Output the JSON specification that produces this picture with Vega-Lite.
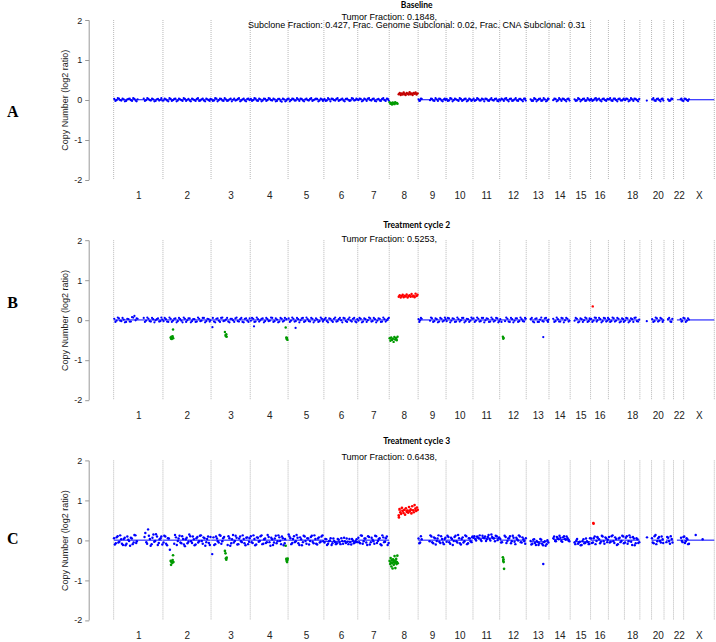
{
"$schema":"https://vega.github.io/schema/vega-lite/v6.json",
"background":"white",
"padding":{"left":5.7,"top":1,"right":0,"bottom":0},
"config":{"view":{"stroke":null}},
"datasets":{
"bounds":[{"x":0},{"x":249},{"x":492},{"x":690},{"x":881},{"x":1062},{"x":1233},{"x":1392},{"x":1538},{"x":1679},{"x":1815},{"x":1950},{"x":2084},{"x":2199},{"x":2306},{"x":2409},{"x":2499},{"x":2580},{"x":2658},{"x":2717},{"x":2780},{"x":2828},{"x":2879},{"x":3034}],
"segA":[{"x":2,"x2":247,"y":0,"s":"N"},{"x":250,"x2":490,"y":0,"s":"N"},{"x":493,"x2":688,"y":0,"s":"N"},{"x":691,"x2":879,"y":0,"s":"N"},{"x":882,"x2":1061,"y":0,"s":"N"},{"x":1063,"x2":1232,"y":0,"s":"N"},{"x":1234,"x2":1391,"y":0,"s":"N"},{"x":1394,"x2":1436,"y":-0.08,"s":"L"},{"x":1438,"x2":1537,"y":0.15,"s":"G"},{"x":1539,"x2":1678,"y":0,"s":"N"},{"x":1680,"x2":1814,"y":0,"s":"N"},{"x":1816,"x2":1949,"y":0,"s":"N"},{"x":1951,"x2":2083,"y":0,"s":"N"},{"x":2104,"x2":2198,"y":0,"s":"N"},{"x":2219,"x2":2305,"y":0,"s":"N"},{"x":2326,"x2":2408,"y":0,"s":"N"},{"x":2410,"x2":2498,"y":0,"s":"N"},{"x":2500,"x2":2579,"y":0,"s":"N"},{"x":2581,"x2":2657,"y":0,"s":"N"},{"x":2718,"x2":2779,"y":0,"s":"N"},{"x":2795,"x2":2827,"y":0,"s":"N"},{"x":2845,"x2":2878,"y":0,"s":"N"},{"x":2880,"x2":3034,"y":0,"s":"N"}],
"ptsA":[{"x":3,"y":0.02},{"x":15,"y":-0.01},{"x":27,"y":0.03},{"x":39,"y":-0.02},{"x":51,"y":0.01},{"x":63,"y":-0.03},{"x":75,"y":0.02},{"x":87,"y":-0.01},{"x":99,"y":0.04},{"x":111,"y":-0.02},{"x":121,"y":0.01},{"x":152,"y":0.03},{"x":164,"y":-0.01},{"x":176,"y":0.02},{"x":188,"y":-0.02},{"x":200,"y":0.01},{"x":212,"y":-0.03},{"x":224,"y":0.02},{"x":236,"y":0},{"x":246,"y":-0.02},
{"x":252,"y":-0.02},{"x":264,"y":0.01},{"x":276,"y":-0.04},{"x":288,"y":0.02},{"x":300,"y":-0.01},{"x":312,"y":0.03},{"x":324,"y":-0.02},{"x":336,"y":0.01},{"x":348,"y":-0.03},{"x":360,"y":0.02},{"x":372,"y":0},{"x":384,"y":-0.02},{"x":396,"y":0.03},{"x":408,"y":-0.01},{"x":420,"y":0.02},{"x":432,"y":-0.03},{"x":444,"y":0.01},{"x":456,"y":-0.02},{"x":468,"y":0.03},{"x":480,"y":-0.01},{"x":489,"y":0.02},
{"x":495,"y":0.01},{"x":507,"y":-0.02},{"x":519,"y":0.03},{"x":531,"y":-0.01},{"x":543,"y":0.02},{"x":555,"y":-0.03},{"x":567,"y":0.01},{"x":579,"y":-0.02},{"x":591,"y":0.03},{"x":603,"y":0},{"x":615,"y":-0.02},{"x":627,"y":0.02},{"x":639,"y":-0.04},{"x":651,"y":0.01},{"x":663,"y":-0.02},{"x":675,"y":0.02},{"x":687,"y":-0.01},
{"x":693,"y":0.02},{"x":705,"y":-0.01},{"x":717,"y":0.03},{"x":729,"y":-0.03},{"x":741,"y":0.01},{"x":753,"y":-0.02},{"x":765,"y":0.02},{"x":777,"y":-0.01},{"x":789,"y":0.03},{"x":801,"y":-0.02},{"x":813,"y":0.01},{"x":825,"y":-0.03},{"x":837,"y":0.02},{"x":849,"y":-0.05},{"x":861,"y":0.01},{"x":873,"y":-0.02},
{"x":884,"y":0.03},{"x":896,"y":-0.01},{"x":908,"y":0.02},{"x":920,"y":-0.02},{"x":932,"y":0.01},{"x":944,"y":0.03},{"x":956,"y":-0.02},{"x":968,"y":0.01},{"x":980,"y":-0.01},{"x":992,"y":0.02},{"x":1004,"y":-0.03},{"x":1016,"y":0.01},{"x":1028,"y":0.02},{"x":1040,"y":-0.02},{"x":1052,"y":0.01},{"x":1060,"y":-0.01},
{"x":1065,"y":0.02},{"x":1077,"y":-0.02},{"x":1089,"y":0.01},{"x":1101,"y":0.03},{"x":1113,"y":-0.01},{"x":1125,"y":0.02},{"x":1137,"y":-0.03},{"x":1149,"y":0.01},{"x":1161,"y":-0.02},{"x":1173,"y":0.02},{"x":1185,"y":0},{"x":1197,"y":-0.02},{"x":1209,"y":0.03},{"x":1221,"y":-0.01},{"x":1231,"y":0.01},
{"x":1236,"y":-0.01},{"x":1248,"y":0.02},{"x":1260,"y":-0.02},{"x":1272,"y":0.01},{"x":1284,"y":0.03},{"x":1296,"y":-0.01},{"x":1308,"y":0.02},{"x":1320,"y":-0.03},{"x":1332,"y":0.01},{"x":1344,"y":-0.02},{"x":1356,"y":0.02},{"x":1368,"y":-0.01},{"x":1380,"y":0.03},{"x":1390,"y":-0.02},
{"x":1540,"y":0.01},{"x":1548,"y":-0.02},{"x":1556,"y":0.02},{"x":1598,"y":-0.01},{"x":1608,"y":0.02},{"x":1620,"y":-0.03},{"x":1632,"y":0.01},{"x":1644,"y":0.03},{"x":1656,"y":-0.02},{"x":1668,"y":0.01},{"x":1677,"y":-0.01},
{"x":1682,"y":0.02},{"x":1694,"y":-0.02},{"x":1706,"y":0.03},{"x":1718,"y":-0.01},{"x":1730,"y":0.01},{"x":1742,"y":-0.03},{"x":1754,"y":0.02},{"x":1766,"y":-0.01},{"x":1778,"y":0.03},{"x":1790,"y":-0.02},{"x":1802,"y":0.01},{"x":1812,"y":-0.01},
{"x":1818,"y":0.03},{"x":1830,"y":-0.01},{"x":1842,"y":0.02},{"x":1854,"y":-0.02},{"x":1866,"y":0.01},{"x":1878,"y":0.03},{"x":1890,"y":-0.02},{"x":1902,"y":0.01},{"x":1914,"y":-0.01},{"x":1926,"y":0.02},{"x":1938,"y":-0.03},{"x":1948,"y":0.01},
{"x":1953,"y":-0.02},{"x":1965,"y":0.01},{"x":1977,"y":0.03},{"x":1989,"y":-0.01},{"x":2001,"y":0.02},{"x":2013,"y":-0.03},{"x":2025,"y":0.01},{"x":2037,"y":-0.02},{"x":2049,"y":0.02},{"x":2061,"y":-0.01},{"x":2073,"y":0.03},{"x":2082,"y":-0.02},
{"x":2106,"y":0.01},{"x":2118,"y":-0.03},{"x":2130,"y":0.02},{"x":2142,"y":-0.01},{"x":2154,"y":0.03},{"x":2166,"y":-0.02},{"x":2178,"y":0.01},{"x":2190,"y":-0.02},{"x":2197,"y":0.02},
{"x":2220,"y":-0.01},{"x":2232,"y":0.02},{"x":2244,"y":-0.02},{"x":2256,"y":0.01},{"x":2268,"y":0.03},{"x":2280,"y":-0.01},{"x":2292,"y":0.02},{"x":2303,"y":-0.02},
{"x":2328,"y":0.01},{"x":2340,"y":-0.02},{"x":2352,"y":0.02},{"x":2364,"y":-0.01},{"x":2376,"y":0.03},{"x":2388,"y":-0.02},{"x":2400,"y":0.01},{"x":2407,"y":-0.01},
{"x":2412,"y":0.02},{"x":2424,"y":-0.01},{"x":2436,"y":0.04},{"x":2444,"y":0.01},{"x":2458,"y":-0.02},{"x":2470,"y":0.02},{"x":2482,"y":-0.01},{"x":2494,"y":0.02},
{"x":2502,"y":0.01},{"x":2514,"y":-0.02},{"x":2526,"y":0.03},{"x":2538,"y":-0.01},{"x":2550,"y":0.02},{"x":2562,"y":-0.02},{"x":2574,"y":0.01},
{"x":2583,"y":-0.01},{"x":2595,"y":0.02},{"x":2607,"y":-0.02},{"x":2619,"y":0.01},{"x":2631,"y":0.03},{"x":2643,"y":-0.01},{"x":2655,"y":0.02},
{"x":2693,"y":-0.02},
{"x":2720,"y":0.01},{"x":2732,"y":-0.02},{"x":2744,"y":0.02},{"x":2756,"y":-0.01},{"x":2768,"y":0.02},{"x":2777,"y":-0.02},
{"x":2800,"y":0.01},{"x":2812,"y":-0.02},{"x":2822,"y":0.02},
{"x":2864,"y":0.01},{"x":2872,"y":-0.02},{"x":2884,"y":0.03},{"x":2896,"y":-0.01},{"x":2906,"y":0.01},
{"x":9,"y":-0.03},{"x":21,"y":0.04},{"x":33,"y":-0.01},{"x":45,"y":0.03},{"x":57,"y":-0.04},{"x":69,"y":0.01},{"x":81,"y":0.03},{"x":93,"y":-0.03},{"x":105,"y":0.02},{"x":116,"y":-0.04},{"x":158,"y":-0.03},{"x":170,"y":0.04},{"x":182,"y":-0.01},{"x":194,"y":0.03},{"x":206,"y":-0.04},{"x":218,"y":0.01},{"x":230,"y":-0.02},{"x":241,"y":0.04},
{"x":258,"y":0.03},{"x":270,"y":-0.02},{"x":282,"y":0.04},{"x":294,"y":-0.03},{"x":306,"y":0.02},{"x":318,"y":-0.04},{"x":330,"y":0.03},{"x":342,"y":-0.01},{"x":354,"y":0.04},{"x":366,"y":-0.03},{"x":378,"y":0.02},{"x":390,"y":-0.04},{"x":402,"y":0.01},{"x":414,"y":-0.03},{"x":426,"y":0.04},{"x":438,"y":-0.02},{"x":450,"y":0.03},{"x":462,"y":-0.04},{"x":474,"y":0.01},{"x":485,"y":-0.03},
{"x":501,"y":-0.03},{"x":513,"y":0.04},{"x":525,"y":-0.04},{"x":537,"y":0.03},{"x":549,"y":-0.02},{"x":561,"y":0.04},{"x":573,"y":-0.03},{"x":585,"y":0.01},{"x":597,"y":-0.04},{"x":609,"y":0.03},{"x":621,"y":-0.01},{"x":633,"y":0.04},{"x":645,"y":-0.02},{"x":657,"y":0.03},{"x":669,"y":-0.04},{"x":681,"y":0.03},
{"x":699,"y":-0.03},{"x":711,"y":0.04},{"x":723,"y":-0.02},{"x":735,"y":0.03},{"x":747,"y":-0.04},{"x":759,"y":0.03},{"x":771,"y":-0.03},{"x":783,"y":0.04},{"x":795,"y":-0.01},{"x":807,"y":0.03},{"x":819,"y":-0.04},{"x":831,"y":0.02},{"x":843,"y":-0.03},{"x":855,"y":0.03},{"x":867,"y":-0.04},{"x":878,"y":0.02},
{"x":890,"y":-0.04},{"x":902,"y":0.03},{"x":914,"y":-0.02},{"x":926,"y":0.04},{"x":938,"y":-0.03},{"x":950,"y":0.02},{"x":962,"y":-0.04},{"x":974,"y":0.03},{"x":986,"y":-0.02},{"x":998,"y":0.04},{"x":1010,"y":-0.01},{"x":1022,"y":0.03},{"x":1034,"y":-0.04},{"x":1046,"y":0.03},{"x":1057,"y":-0.03},
{"x":1071,"y":-0.03},{"x":1083,"y":0.04},{"x":1095,"y":-0.04},{"x":1107,"y":0.02},{"x":1119,"y":-0.02},{"x":1131,"y":0.04},{"x":1143,"y":-0.01},{"x":1155,"y":0.03},{"x":1167,"y":-0.04},{"x":1179,"y":0.03},{"x":1191,"y":-0.03},{"x":1203,"y":0.04},{"x":1215,"y":-0.02},{"x":1226,"y":0.03},
{"x":1242,"y":0.03},{"x":1254,"y":-0.04},{"x":1266,"y":0.03},{"x":1278,"y":-0.03},{"x":1290,"y":0.04},{"x":1302,"y":-0.02},{"x":1314,"y":0.03},{"x":1326,"y":-0.04},{"x":1338,"y":0.02},{"x":1350,"y":-0.03},{"x":1362,"y":0.04},{"x":1374,"y":-0.03},{"x":1385,"y":0.02},
{"x":1544,"y":-0.03},{"x":1552,"y":0.03},{"x":1603,"y":0.03},{"x":1614,"y":-0.02},{"x":1626,"y":0.04},{"x":1638,"y":-0.03},{"x":1650,"y":0.02},{"x":1662,"y":-0.04},{"x":1673,"y":0.03},
{"x":1688,"y":-0.03},{"x":1700,"y":0.04},{"x":1712,"y":-0.04},{"x":1724,"y":0.03},{"x":1736,"y":-0.01},{"x":1748,"y":0.04},{"x":1760,"y":-0.03},{"x":1772,"y":0.02},{"x":1784,"y":-0.04},{"x":1796,"y":0.03},{"x":1807,"y":-0.03},
{"x":1824,"y":-0.03},{"x":1836,"y":0.04},{"x":1848,"y":-0.02},{"x":1860,"y":0.03},{"x":1872,"y":-0.04},{"x":1884,"y":0.02},{"x":1896,"y":-0.03},{"x":1908,"y":0.04},{"x":1920,"y":-0.02},{"x":1932,"y":0.03},{"x":1943,"y":-0.04},
{"x":1959,"y":0.03},{"x":1971,"y":-0.03},{"x":1983,"y":0.04},{"x":1995,"y":-0.04},{"x":2007,"y":0.03},{"x":2019,"y":-0.02},{"x":2031,"y":0.04},{"x":2043,"y":-0.03},{"x":2055,"y":0.02},{"x":2067,"y":-0.04},{"x":2078,"y":0.03},
{"x":2112,"y":-0.03},{"x":2124,"y":0.04},{"x":2136,"y":-0.04},{"x":2148,"y":0.02},{"x":2160,"y":-0.03},{"x":2172,"y":0.04},{"x":2184,"y":-0.04},{"x":2194,"y":0.03},
{"x":2226,"y":0.03},{"x":2238,"y":-0.04},{"x":2250,"y":0.04},{"x":2262,"y":-0.03},{"x":2274,"y":0.02},{"x":2286,"y":-0.04},{"x":2298,"y":0.03},
{"x":2334,"y":-0.03},{"x":2346,"y":0.04},{"x":2358,"y":-0.04},{"x":2370,"y":0.02},{"x":2382,"y":-0.03},{"x":2394,"y":0.04},{"x":2404,"y":-0.02},
{"x":2418,"y":-0.03},{"x":2430,"y":0.03},{"x":2440,"y":-0.02},{"x":2452,"y":0.03},{"x":2464,"y":-0.04},{"x":2476,"y":0.03},{"x":2488,"y":-0.03},{"x":2497,"y":0.01},
{"x":2508,"y":0.04},{"x":2520,"y":-0.03},{"x":2532,"y":0.03},{"x":2544,"y":-0.04},{"x":2556,"y":0.03},{"x":2568,"y":-0.02},{"x":2577,"y":0.03},
{"x":2589,"y":0.03},{"x":2601,"y":-0.04},{"x":2613,"y":0.04},{"x":2625,"y":-0.03},{"x":2637,"y":0.02},{"x":2649,"y":-0.04},
{"x":2726,"y":0.04},{"x":2738,"y":-0.03},{"x":2750,"y":0.03},{"x":2762,"y":-0.04},{"x":2773,"y":0.03},
{"x":2806,"y":-0.03},{"x":2817,"y":0.03},
{"x":2868,"y":0.03},{"x":2878,"y":-0.03},{"x":2890,"y":0.02},{"x":2901,"y":-0.03}],
"cnaA":[{"x":1394,"y":-0.06,"s":"L"},{"x":1398,"y":-0.1,"s":"L"},{"x":1402,"y":-0.08,"s":"L"},{"x":1406,"y":-0.12,"s":"L"},{"x":1410,"y":-0.07,"s":"L"},{"x":1414,"y":-0.09,"s":"L"},{"x":1418,"y":-0.11,"s":"L"},{"x":1422,"y":-0.06,"s":"L"},{"x":1426,"y":-0.09,"s":"L"},{"x":1430,"y":-0.08,"s":"L"},{"x":1434,"y":-0.1,"s":"L"},
{"x":1440,"y":0.14,"s":"G"},{"x":1445,"y":0.17,"s":"G"},{"x":1450,"y":0.12,"s":"G"},{"x":1455,"y":0.16,"s":"G"},{"x":1460,"y":0.13,"s":"G"},{"x":1465,"y":0.18,"s":"G"},{"x":1470,"y":0.14,"s":"G"},{"x":1475,"y":0.12,"s":"G"},{"x":1480,"y":0.17,"s":"G"},{"x":1485,"y":0.15,"s":"G"},{"x":1490,"y":0.13,"s":"G"},{"x":1495,"y":0.19,"s":"G"},{"x":1500,"y":0.14,"s":"G"},{"x":1505,"y":0.16,"s":"G"},{"x":1510,"y":0.12,"s":"G"},{"x":1515,"y":0.17,"s":"G"},{"x":1520,"y":0.15,"s":"G"},{"x":1525,"y":0.18,"s":"G"},{"x":1530,"y":0.13,"s":"G"},{"x":1535,"y":0.16,"s":"G"}],
"segB":[{"x":2,"x2":247,"y":0,"s":"N"},{"x":250,"x2":490,"y":0,"s":"N"},{"x":493,"x2":688,"y":0,"s":"N"},{"x":691,"x2":879,"y":0,"s":"N"},{"x":882,"x2":1061,"y":0,"s":"N"},{"x":1063,"x2":1232,"y":0,"s":"N"},{"x":1234,"x2":1391,"y":0,"s":"N"},{"x":1539,"x2":1678,"y":0,"s":"N"},{"x":1680,"x2":1814,"y":0,"s":"N"},{"x":1816,"x2":1949,"y":0,"s":"N"},{"x":1951,"x2":2083,"y":0,"s":"N"},{"x":2104,"x2":2198,"y":0,"s":"N"},{"x":2219,"x2":2305,"y":0,"s":"N"},{"x":2326,"x2":2408,"y":0,"s":"N"},{"x":2410,"x2":2498,"y":0,"s":"N"},{"x":2500,"x2":2579,"y":0,"s":"N"},{"x":2581,"x2":2657,"y":0,"s":"N"},{"x":2718,"x2":2779,"y":0,"s":"N"},{"x":2795,"x2":2827,"y":0,"s":"N"},{"x":2845,"x2":2878,"y":0,"s":"N"},{"x":2880,"x2":3034,"y":0,"s":"N"},
{"x":1394,"x2":1436,"y":-0.48,"s":"L"},{"x":1438,"x2":1537,"y":0.6,"s":"G"},{"x":288,"x2":302,"y":-0.45,"s":"L"},{"x":561,"x2":571,"y":-0.38,"s":"L"},{"x":869,"x2":879,"y":-0.47,"s":"L"},{"x":1965,"x2":1971,"y":-0.45,"s":"L"}],
"ptsB":[{"x":3,"y":0.03},{"x":15,"y":-0.02},{"x":27,"y":0.04},{"x":39,"y":-0.03},{"x":51,"y":0.01},{"x":63,"y":-0.05},{"x":75,"y":0.02},{"x":87,"y":-0.04},{"x":99,"y":0.06},{"x":105,"y":0.1},{"x":111,"y":-0.01},{"x":121,"y":0.03},{"x":152,"y":0.05},{"x":164,"y":-0.02},{"x":176,"y":0.03},{"x":188,"y":-0.04},{"x":200,"y":0.02},{"x":212,"y":-0.01},{"x":224,"y":0.04},{"x":236,"y":-0.03},{"x":246,"y":0.01},
{"x":252,"y":-0.03},{"x":264,"y":0.02},{"x":276,"y":-0.05},{"x":288,"y":0.03},{"x":300,"y":-0.02},{"x":312,"y":0.04},{"x":324,"y":-0.03},{"x":336,"y":0.02},{"x":348,"y":-0.06},{"x":360,"y":0.03},{"x":372,"y":-0.01},{"x":384,"y":0.04},{"x":396,"y":-0.03},{"x":408,"y":0.02},{"x":420,"y":-0.04},{"x":432,"y":0.03},{"x":444,"y":-0.02},{"x":456,"y":0.05},{"x":468,"y":-0.03},{"x":480,"y":0.02},{"x":489,"y":-0.01},
{"x":499,"y":-0.18},{"x":507,"y":-0.04},{"x":519,"y":0.03},{"x":531,"y":-0.02},{"x":543,"y":0.05},{"x":555,"y":-0.03},{"x":567,"y":0.01},{"x":579,"y":-0.04},{"x":591,"y":0.03},{"x":603,"y":-0.01},{"x":615,"y":0.04},{"x":627,"y":-0.03},{"x":639,"y":0.02},{"x":651,"y":-0.05},{"x":663,"y":0.03},{"x":675,"y":-0.02},{"x":687,"y":0.04},
{"x":693,"y":-0.02},{"x":705,"y":0.03},{"x":709,"y":-0.16},{"x":717,"y":-0.04},{"x":729,"y":0.02},{"x":741,"y":-0.01},{"x":753,"y":0.04},{"x":765,"y":-0.03},{"x":777,"y":0.02},{"x":789,"y":-0.02},{"x":801,"y":0.05},{"x":813,"y":-0.03},{"x":825,"y":0.01},{"x":837,"y":-0.04},{"x":849,"y":0.03},{"x":861,"y":-0.02},{"x":873,"y":0.02},
{"x":884,"y":0.04},{"x":896,"y":-0.02},{"x":908,"y":0.03},{"x":919,"y":-0.2},{"x":920,"y":-0.03},{"x":932,"y":0.02},{"x":944,"y":-0.01},{"x":956,"y":0.05},{"x":968,"y":-0.03},{"x":980,"y":0.02},{"x":992,"y":-0.04},{"x":1004,"y":0.03},{"x":1016,"y":-0.02},{"x":1028,"y":0.01},{"x":1040,"y":-0.03},{"x":1052,"y":0.03},{"x":1060,"y":-0.01},
{"x":1065,"y":0.02},{"x":1077,"y":-0.03},{"x":1089,"y":0.04},{"x":1101,"y":-0.02},{"x":1113,"y":0.03},{"x":1125,"y":-0.04},{"x":1137,"y":0.02},{"x":1149,"y":-0.01},{"x":1161,"y":0.05},{"x":1173,"y":-0.03},{"x":1185,"y":0.02},{"x":1197,"y":-0.02},{"x":1209,"y":0.03},{"x":1221,"y":-0.04},{"x":1231,"y":0.02},
{"x":1236,"y":-0.02},{"x":1248,"y":0.03},{"x":1260,"y":-0.04},{"x":1272,"y":0.02},{"x":1284,"y":-0.01},{"x":1296,"y":0.04},{"x":1308,"y":-0.03},{"x":1320,"y":0.02},{"x":1332,"y":-0.02},{"x":1344,"y":0.03},{"x":1356,"y":-0.04},{"x":1368,"y":0.02},{"x":1380,"y":-0.01},{"x":1390,"y":0.05},
{"x":1540,"y":0.02},{"x":1548,"y":-0.01},{"x":1556,"y":0.03},{"x":1598,"y":-0.02},{"x":1608,"y":0.04},{"x":1620,"y":-0.03},{"x":1632,"y":0.02},{"x":1644,"y":-0.04},{"x":1656,"y":0.03},{"x":1668,"y":-0.02},{"x":1677,"y":0.02},
{"x":1682,"y":-0.03},{"x":1694,"y":0.04},{"x":1706,"y":-0.02},{"x":1718,"y":0.03},{"x":1730,"y":-0.04},{"x":1742,"y":0.02},{"x":1754,"y":-0.01},{"x":1766,"y":0.05},{"x":1778,"y":-0.03},{"x":1790,"y":0.02},{"x":1802,"y":-0.02},{"x":1812,"y":0.03},
{"x":1818,"y":0.04},{"x":1830,"y":-0.02},{"x":1842,"y":0.03},{"x":1854,"y":-0.03},{"x":1866,"y":0.05},{"x":1878,"y":-0.01},{"x":1890,"y":0.03},{"x":1902,"y":-0.04},{"x":1914,"y":0.02},{"x":1926,"y":-0.02},{"x":1938,"y":0.04},{"x":1948,"y":-0.03},
{"x":1953,"y":0.02},{"x":1977,"y":-0.03},{"x":1989,"y":0.03},{"x":2001,"y":-0.05},{"x":2013,"y":0.02},{"x":2025,"y":-0.02},{"x":2037,"y":0.04},{"x":2049,"y":-0.03},{"x":2061,"y":0.02},{"x":2073,"y":-0.04},{"x":2082,"y":0.03},
{"x":2106,"y":0.02},{"x":2118,"y":-0.04},{"x":2130,"y":0.03},{"x":2142,"y":-0.05},{"x":2154,"y":0.01},{"x":2166,"y":-0.03},{"x":2170,"y":-0.43},{"x":2178,"y":0.04},{"x":2190,"y":-0.02},{"x":2197,"y":0.01},
{"x":2220,"y":0.03},{"x":2232,"y":-0.03},{"x":2244,"y":0.02},{"x":2256,"y":-0.04},{"x":2268,"y":0.04},{"x":2280,"y":-0.01},{"x":2292,"y":0.03},{"x":2303,"y":-0.02},
{"x":2328,"y":-0.02},{"x":2340,"y":0.03},{"x":2352,"y":-0.04},{"x":2364,"y":0.02},{"x":2376,"y":-0.01},{"x":2388,"y":0.04},{"x":2400,"y":-0.03},{"x":2407,"y":0.02},
{"x":2412,"y":0.03},{"x":2424,"y":-0.02},{"x":2436,"y":0.05},{"x":2444,"y":-0.01},{"x":2458,"y":0.02},{"x":2470,"y":-0.03},{"x":2482,"y":0.04},{"x":2494,"y":-0.02},
{"x":2502,"y":0.02},{"x":2514,"y":-0.03},{"x":2526,"y":0.04},{"x":2538,"y":-0.02},{"x":2550,"y":0.03},{"x":2562,"y":-0.04},{"x":2574,"y":0.02},
{"x":2583,"y":-0.02},{"x":2595,"y":0.04},{"x":2607,"y":-0.03},{"x":2619,"y":0.02},{"x":2631,"y":0.05},{"x":2643,"y":-0.03},{"x":2655,"y":0.01},
{"x":2693,"y":-0.03},
{"x":2720,"y":0.02},{"x":2732,"y":-0.03},{"x":2744,"y":0.04},{"x":2756,"y":-0.02},{"x":2768,"y":0.03},{"x":2777,"y":-0.01},
{"x":2800,"y":0.02},{"x":2812,"y":-0.04},{"x":2822,"y":0.03},
{"x":2864,"y":0.02},{"x":2872,"y":-0.03},{"x":2884,"y":0.04},{"x":2896,"y":-0.02},{"x":2906,"y":0.01},
{"x":9,"y":-0.05},{"x":21,"y":0.06},{"x":33,"y":-0.02},{"x":45,"y":0.05},{"x":57,"y":-0.06},{"x":69,"y":0.03},{"x":81,"y":-0.04},{"x":93,"y":0.07},{"x":116,"y":0.04},{"x":158,"y":-0.05},{"x":170,"y":0.06},{"x":182,"y":-0.03},{"x":194,"y":0.05},{"x":206,"y":-0.06},{"x":218,"y":0.02},{"x":230,"y":-0.04},{"x":241,"y":0.06},
{"x":258,"y":0.05},{"x":270,"y":-0.04},{"x":282,"y":0.06},{"x":294,"y":-0.05},{"x":306,"y":0.03},{"x":318,"y":-0.06},{"x":330,"y":0.05},{"x":342,"y":-0.02},{"x":354,"y":0.06},{"x":366,"y":-0.05},{"x":378,"y":0.04},{"x":390,"y":-0.06},{"x":402,"y":0.02},{"x":414,"y":-0.05},{"x":426,"y":0.06},{"x":438,"y":-0.03},{"x":450,"y":0.05},{"x":462,"y":-0.06},{"x":474,"y":0.03},{"x":485,"y":-0.04},
{"x":501,"y":0.05},{"x":513,"y":-0.06},{"x":525,"y":0.04},{"x":537,"y":-0.05},{"x":549,"y":0.06},{"x":561,"y":-0.02},{"x":573,"y":0.05},{"x":585,"y":-0.06},{"x":597,"y":0.03},{"x":609,"y":-0.05},{"x":621,"y":0.06},{"x":633,"y":-0.04},{"x":645,"y":0.05},{"x":657,"y":-0.06},{"x":669,"y":0.04},{"x":681,"y":-0.05},
{"x":699,"y":0.05},{"x":711,"y":-0.05},{"x":723,"y":0.06},{"x":735,"y":-0.04},{"x":747,"y":0.03},{"x":759,"y":-0.06},{"x":771,"y":0.05},{"x":783,"y":-0.03},{"x":795,"y":0.06},{"x":807,"y":-0.05},{"x":819,"y":0.04},{"x":831,"y":-0.06},{"x":843,"y":0.05},{"x":855,"y":-0.04},{"x":865,"y":0.05},
{"x":890,"y":-0.05},{"x":902,"y":0.06},{"x":914,"y":-0.04},{"x":926,"y":0.05},{"x":938,"y":-0.06},{"x":950,"y":0.04},{"x":962,"y":-0.05},{"x":974,"y":0.06},{"x":986,"y":-0.03},{"x":998,"y":0.05},{"x":1010,"y":-0.06},{"x":1022,"y":0.04},{"x":1034,"y":-0.05},{"x":1046,"y":0.06},{"x":1057,"y":-0.04},
{"x":1071,"y":0.05},{"x":1083,"y":-0.06},{"x":1095,"y":0.03},{"x":1107,"y":-0.05},{"x":1119,"y":0.06},{"x":1131,"y":-0.03},{"x":1143,"y":0.05},{"x":1155,"y":-0.06},{"x":1167,"y":0.04},{"x":1179,"y":-0.05},{"x":1191,"y":0.06},{"x":1203,"y":-0.04},{"x":1215,"y":0.05},{"x":1226,"y":-0.06},
{"x":1242,"y":0.05},{"x":1254,"y":-0.06},{"x":1266,"y":0.04},{"x":1278,"y":-0.05},{"x":1290,"y":0.06},{"x":1302,"y":-0.04},{"x":1314,"y":0.05},{"x":1326,"y":-0.06},{"x":1338,"y":0.04},{"x":1350,"y":-0.05},{"x":1362,"y":0.06},{"x":1374,"y":-0.04},{"x":1385,"y":0.03},
{"x":1544,"y":-0.05},{"x":1552,"y":0.05},{"x":1603,"y":0.06},{"x":1614,"y":-0.05},{"x":1626,"y":0.04},{"x":1638,"y":-0.06},{"x":1650,"y":0.05},{"x":1662,"y":-0.04},{"x":1673,"y":0.06},
{"x":1688,"y":0.05},{"x":1700,"y":-0.06},{"x":1712,"y":0.04},{"x":1724,"y":-0.05},{"x":1736,"y":0.06},{"x":1748,"y":-0.04},{"x":1760,"y":0.05},{"x":1772,"y":-0.06},{"x":1784,"y":0.03},{"x":1796,"y":-0.05},{"x":1807,"y":0.06},
{"x":1824,"y":-0.05},{"x":1836,"y":0.06},{"x":1848,"y":-0.04},{"x":1860,"y":0.05},{"x":1872,"y":-0.06},{"x":1884,"y":0.04},{"x":1896,"y":-0.05},{"x":1908,"y":0.06},{"x":1920,"y":-0.04},{"x":1932,"y":0.05},{"x":1943,"y":-0.06},
{"x":1959,"y":-0.05},{"x":1983,"y":0.06},{"x":1995,"y":-0.04},{"x":2007,"y":0.05},{"x":2019,"y":-0.06},{"x":2031,"y":0.04},{"x":2043,"y":-0.05},{"x":2055,"y":0.06},{"x":2067,"y":-0.03},{"x":2078,"y":0.05},
{"x":2112,"y":0.05},{"x":2124,"y":-0.06},{"x":2136,"y":0.04},{"x":2148,"y":-0.05},{"x":2160,"y":0.06},{"x":2172,"y":-0.04},{"x":2184,"y":0.05},{"x":2194,"y":-0.05},
{"x":2226,"y":-0.05},{"x":2238,"y":0.06},{"x":2250,"y":-0.04},{"x":2262,"y":0.05},{"x":2274,"y":-0.06},{"x":2286,"y":0.05},{"x":2298,"y":-0.04},
{"x":2334,"y":0.05},{"x":2346,"y":-0.06},{"x":2358,"y":0.04},{"x":2370,"y":-0.05},{"x":2382,"y":0.06},{"x":2394,"y":-0.05},{"x":2404,"y":0.04},
{"x":2418,"y":-0.05},{"x":2430,"y":0.06},{"x":2440,"y":-0.04},{"x":2452,"y":0.05},{"x":2464,"y":-0.06},{"x":2476,"y":0.05},{"x":2488,"y":-0.04},{"x":2497,"y":0.05},
{"x":2508,"y":-0.05},{"x":2520,"y":0.06},{"x":2532,"y":-0.04},{"x":2544,"y":0.05},{"x":2556,"y":-0.06},{"x":2568,"y":0.04},{"x":2577,"y":-0.05},
{"x":2589,"y":0.05},{"x":2601,"y":-0.06},{"x":2613,"y":0.04},{"x":2625,"y":-0.05},{"x":2637,"y":0.06},{"x":2649,"y":-0.04},
{"x":2726,"y":-0.05},{"x":2738,"y":0.06},{"x":2750,"y":-0.04},{"x":2762,"y":0.05},{"x":2773,"y":-0.05},
{"x":2806,"y":0.05},{"x":2817,"y":-0.05},
{"x":2868,"y":-0.04},{"x":2878,"y":0.05},{"x":2890,"y":-0.05},{"x":2901,"y":0.04}],
"cnaB":[{"x":288,"y":-0.44,"s":"L"},{"x":290,"y":-0.47,"s":"L"},{"x":292,"y":-0.42,"s":"L"},{"x":294,"y":-0.48,"s":"L"},{"x":296,"y":-0.45,"s":"L"},{"x":298,"y":-0.41,"s":"L"},{"x":300,"y":-0.24,"s":"L"},{"x":301,"y":-0.46,"s":"L"},
{"x":562,"y":-0.3,"s":"L"},{"x":565,"y":-0.38,"s":"L"},{"x":567,"y":-0.41,"s":"L"},{"x":569,"y":-0.36,"s":"L"},{"x":571,"y":-0.42,"s":"L"},
{"x":869,"y":-0.19,"s":"L"},{"x":872,"y":-0.44,"s":"L"},{"x":874,"y":-0.48,"s":"L"},{"x":876,"y":-0.45,"s":"L"},{"x":878,"y":-0.5,"s":"L"},
{"x":1394,"y":-0.46,"s":"L"},{"x":1398,"y":-0.52,"s":"L"},{"x":1402,"y":-0.44,"s":"L"},{"x":1406,"y":-0.5,"s":"L"},{"x":1410,"y":-0.47,"s":"L"},{"x":1414,"y":-0.55,"s":"L"},{"x":1418,"y":-0.43,"s":"L"},{"x":1422,"y":-0.49,"s":"L"},{"x":1426,"y":-0.45,"s":"L"},{"x":1430,"y":-0.51,"s":"L"},{"x":1434,"y":-0.42,"s":"L"},
{"x":1440,"y":0.58,"s":"G"},{"x":1445,"y":0.62,"s":"G"},{"x":1450,"y":0.56,"s":"G"},{"x":1455,"y":0.6,"s":"G"},{"x":1460,"y":0.63,"s":"G"},{"x":1465,"y":0.57,"s":"G"},{"x":1470,"y":0.61,"s":"G"},{"x":1475,"y":0.59,"s":"G"},{"x":1480,"y":0.64,"s":"G"},{"x":1485,"y":0.56,"s":"G"},{"x":1490,"y":0.6,"s":"G"},{"x":1495,"y":0.62,"s":"G"},{"x":1500,"y":0.58,"s":"G"},{"x":1505,"y":0.65,"s":"G"},{"x":1510,"y":0.59,"s":"G"},{"x":1515,"y":0.61,"s":"G"},{"x":1520,"y":0.57,"s":"G"},{"x":1525,"y":0.66,"s":"G"},{"x":1530,"y":0.6,"s":"G"},{"x":1535,"y":0.63,"s":"G"},
{"x":1966,"y":-0.42,"s":"L"},{"x":1968,"y":-0.47,"s":"L"},{"x":1970,"y":-0.45,"s":"L"},
{"x":2420,"y":0.34,"s":"G"}],
"segC":[{"x":2,"x2":247,"y":0,"s":"N"},{"x":250,"x2":490,"y":0,"s":"N"},{"x":493,"x2":688,"y":0,"s":"N"},{"x":691,"x2":879,"y":0,"s":"N"},{"x":882,"x2":1061,"y":0,"s":"N"},{"x":1063,"x2":1232,"y":-0.03,"s":"N"},{"x":1234,"x2":1391,"y":0,"s":"N"},{"x":1539,"x2":1678,"y":0,"s":"N"},{"x":1680,"x2":1814,"y":0,"s":"N"},{"x":1816,"x2":1949,"y":0.05,"s":"N"},{"x":1951,"x2":2083,"y":0,"s":"N"},{"x":2104,"x2":2198,"y":-0.04,"s":"N"},{"x":2219,"x2":2305,"y":0.02,"s":"N"},{"x":2326,"x2":2408,"y":-0.04,"s":"N"},{"x":2410,"x2":2498,"y":0,"s":"N"},{"x":2500,"x2":2579,"y":0,"s":"N"},{"x":2581,"x2":2657,"y":0,"s":"N"},{"x":2718,"x2":2779,"y":0,"s":"N"},{"x":2790,"x2":2827,"y":0,"s":"N"},{"x":2845,"x2":2878,"y":0,"s":"N"},{"x":2880,"x2":3034,"y":0,"s":"N"},
{"x":1394,"x2":1436,"y":-0.55,"s":"L"},{"x":1438,"x2":1537,"y":0.75,"s":"G"},{"x":288,"x2":302,"y":-0.54,"s":"L"},{"x":562,"x2":571,"y":-0.45,"s":"L"},{"x":869,"x2":879,"y":-0.5,"s":"L"},{"x":1965,"x2":1972,"y":-0.52,"s":"L"}],
"ptsC":[{"x":2,"y":0.05},{"x":11,"y":-0.08},{"x":20,"y":0.1},{"x":29,"y":-0.04},{"x":38,"y":0.02},{"x":47,"y":-0.12},{"x":56,"y":0.06},{"x":65,"y":-0.09},{"x":74,"y":0.01},{"x":83,"y":-0.14},{"x":92,"y":0.04},{"x":101,"y":-0.06},{"x":110,"y":0.12},{"x":117,"y":-0.03},{"x":156,"y":0.08},{"x":165,"y":-0.05},{"x":174,"y":0.27},{"x":183,"y":0.03},{"x":192,"y":-0.1},{"x":201,"y":0.14},{"x":210,"y":-0.02},{"x":219,"y":0.09},{"x":228,"y":-0.07},{"x":237,"y":0.05},{"x":246,"y":-0.11},
{"x":252,"y":-0.06},{"x":261,"y":0.09},{"x":270,"y":-0.13},{"x":279,"y":0.04},{"x":284,"y":-0.24},{"x":306,"y":-0.09},{"x":315,"y":0.07},{"x":324,"y":-0.02},{"x":333,"y":0.11},{"x":342,"y":-0.08},{"x":351,"y":0.03},{"x":360,"y":-0.15},{"x":369,"y":0.06},{"x":378,"y":-0.04},{"x":387,"y":0.1},{"x":396,"y":-0.07},{"x":405,"y":0.02},{"x":414,"y":-0.11},{"x":423,"y":0.08},{"x":432,"y":-0.03},{"x":441,"y":0.12},{"x":450,"y":-0.09},{"x":459,"y":0.05},{"x":468,"y":-0.05},{"x":477,"y":0.09},{"x":486,"y":-0.12},
{"x":498,"y":-0.35},{"x":504,"y":0.07},{"x":513,"y":-0.1},{"x":522,"y":0.04},{"x":531,"y":-0.06},{"x":540,"y":0.11},{"x":549,"y":-0.03},{"x":558,"y":0.08},{"x":576,"y":-0.12},{"x":585,"y":0.05},{"x":594,"y":-0.08},{"x":603,"y":0.13},{"x":612,"y":-0.02},{"x":621,"y":0.06},{"x":630,"y":-0.1},{"x":639,"y":0.09},{"x":648,"y":-0.05},{"x":657,"y":0.03},{"x":666,"y":-0.13},{"x":675,"y":0.07},{"x":684,"y":-0.04},
{"x":693,"y":0.1},{"x":702,"y":-0.07},{"x":711,"y":0.03},{"x":720,"y":-0.11},{"x":729,"y":0.06},{"x":738,"y":-0.02},{"x":747,"y":0.12},{"x":756,"y":-0.09},{"x":765,"y":0.04},{"x":774,"y":-0.05},{"x":783,"y":0.08},{"x":792,"y":-0.14},{"x":801,"y":0.02},{"x":810,"y":-0.06},{"x":819,"y":0.11},{"x":828,"y":-0.03},{"x":837,"y":0.07},{"x":846,"y":-0.1},{"x":855,"y":0.05},{"x":864,"y":-0.08},
{"x":884,"y":0.14},{"x":893,"y":0.05},{"x":902,"y":-0.07},{"x":911,"y":0.1},{"x":920,"y":-0.03},{"x":929,"y":0.06},{"x":938,"y":-0.12},{"x":947,"y":0.02},{"x":956,"y":-0.05},{"x":965,"y":0.09},{"x":974,"y":-0.09},{"x":983,"y":0.04},{"x":992,"y":-0.02},{"x":1001,"y":0.11},{"x":1010,"y":-0.08},{"x":1019,"y":0.03},{"x":1028,"y":-0.11},{"x":1037,"y":0.07},{"x":1046,"y":-0.04},{"x":1055,"y":0.12},
{"x":1065,"y":-0.06},{"x":1074,"y":0.02},{"x":1083,"y":-0.09},{"x":1092,"y":-0.01},{"x":1101,"y":-0.12},{"x":1110,"y":0.04},{"x":1119,"y":-0.05},{"x":1128,"y":-0.08},{"x":1137,"y":0.01},{"x":1146,"y":-0.1},{"x":1155,"y":-0.02},{"x":1164,"y":0.06},{"x":1173,"y":-0.07},{"x":1182,"y":-0.04},{"x":1191,"y":0.03},{"x":1200,"y":-0.11},{"x":1209,"y":-0.01},{"x":1218,"y":-0.06},{"x":1227,"y":0.02},
{"x":1236,"y":0.06},{"x":1245,"y":-0.08},{"x":1254,"y":0.11},{"x":1263,"y":-0.03},{"x":1272,"y":0.04},{"x":1281,"y":-0.12},{"x":1290,"y":0.08},{"x":1299,"y":-0.05},{"x":1308,"y":0.01},{"x":1317,"y":-0.09},{"x":1326,"y":0.1},{"x":1335,"y":-0.02},{"x":1344,"y":0.05},{"x":1353,"y":-0.13},{"x":1362,"y":0.07},{"x":1371,"y":-0.04},{"x":1380,"y":0.09},{"x":1389,"y":-0.07},
{"x":1540,"y":0.04},{"x":1548,"y":-0.06},{"x":1556,"y":0.02},{"x":1596,"y":-0.03},{"x":1605,"y":0.09},{"x":1614,"y":-0.08},{"x":1623,"y":0.05},{"x":1632,"y":-0.02},{"x":1641,"y":0.12},{"x":1650,"y":-0.07},{"x":1659,"y":0.03},{"x":1668,"y":-0.1},{"x":1676,"y":0.06},
{"x":1682,"y":-0.04},{"x":1691,"y":0.08},{"x":1700,"y":-0.09},{"x":1709,"y":0.03},{"x":1718,"y":-0.02},{"x":1727,"y":0.11},{"x":1736,"y":-0.06},{"x":1745,"y":0.05},{"x":1754,"y":-0.11},{"x":1763,"y":0.07},{"x":1772,"y":-0.03},{"x":1781,"y":0.1},{"x":1790,"y":-0.08},{"x":1799,"y":0.04},{"x":1808,"y":-0.05},{"x":1813,"y":0.09},
{"x":1818,"y":0.06},{"x":1827,"y":0.02},{"x":1836,"y":0.09},{"x":1845,"y":0.04},{"x":1854,"y":0.01},{"x":1863,"y":0.11},{"x":1872,"y":0.05},{"x":1881,"y":-0.02},{"x":1890,"y":0.08},{"x":1899,"y":0.03},{"x":1908,"y":0.14},{"x":1917,"y":0.05},{"x":1926,"y":-0.03},{"x":1935,"y":0.1},{"x":1944,"y":0.04},
{"x":1953,"y":0.03},{"x":1962,"y":-0.05},{"x":1980,"y":0.08},{"x":1989,"y":-0.02},{"x":1998,"y":0.05},{"x":2007,"y":-0.08},{"x":2016,"y":0.11},{"x":2025,"y":-0.04},{"x":2034,"y":0.06},{"x":2043,"y":-0.01},{"x":2052,"y":0.09},{"x":2061,"y":-0.06},{"x":2070,"y":0.02},{"x":2079,"y":-0.09},
{"x":2106,"y":-0.02},{"x":2115,"y":-0.09},{"x":2124,"y":0.02},{"x":2133,"y":-0.12},{"x":2142,"y":-0.05},{"x":2151,"y":-0.08},{"x":2160,"y":0.01},{"x":2169,"y":-0.13},{"x":2170,"y":-0.6},{"x":2178,"y":-0.03},{"x":2187,"y":-0.1},{"x":2196,"y":-0.06},
{"x":2221,"y":0.05},{"x":2230,"y":-0.02},{"x":2239,"y":0.08},{"x":2248,"y":0.02},{"x":2257,"y":0.06},{"x":2266,"y":-0.04},{"x":2275,"y":0.1},{"x":2284,"y":0.01},{"x":2293,"y":0.05},{"x":2302,"y":-0.03},
{"x":2328,"y":-0.06},{"x":2337,"y":-0.01},{"x":2346,"y":-0.09},{"x":2355,"y":-0.04},{"x":2364,"y":-0.12},{"x":2373,"y":0.02},{"x":2382,"y":-0.07},{"x":2391,"y":-0.03},{"x":2400,"y":-0.1},{"x":2406,"y":0.05},
{"x":2412,"y":0.04},{"x":2421,"y":-0.06},{"x":2430,"y":0.09},{"x":2439,"y":-0.02},{"x":2445,"y":0.06},{"x":2457,"y":-0.08},{"x":2466,"y":0.11},{"x":2475,"y":-0.03},{"x":2484,"y":0.07},{"x":2493,"y":-0.05},
{"x":2502,"y":0.08},{"x":2511,"y":-0.04},{"x":2520,"y":0.12},{"x":2529,"y":-0.07},{"x":2538,"y":0.03},{"x":2547,"y":-0.1},{"x":2556,"y":0.06},{"x":2565,"y":-0.02},{"x":2574,"y":0.09},
{"x":2583,"y":-0.06},{"x":2592,"y":0.1},{"x":2601,"y":-0.03},{"x":2610,"y":0.07},{"x":2619,"y":-0.12},{"x":2628,"y":0.04},{"x":2637,"y":-0.08},{"x":2646,"y":0.02},{"x":2655,"y":-0.05},
{"x":2694,"y":0.07},
{"x":2719,"y":0.05},{"x":2728,"y":-0.08},{"x":2737,"y":0.13},{"x":2746,"y":-0.03},{"x":2755,"y":0.08},{"x":2764,"y":-0.06},{"x":2773,"y":0.02},
{"x":2792,"y":-0.05},{"x":2801,"y":0.06},{"x":2810,"y":-0.09},{"x":2819,"y":0.03},
{"x":2866,"y":0.06},{"x":2874,"y":-0.05},{"x":2882,"y":0.09},{"x":2890,"y":-0.03},{"x":2898,"y":0.02},{"x":2906,"y":-0.09},{"x":2940,"y":0.13},{"x":2975,"y":0.02},
{"x":6,"y":-0.11},{"x":15,"y":0.07},{"x":24,"y":-0.06},{"x":33,"y":0.12},{"x":42,"y":-0.09},{"x":51,"y":0.03},{"x":60,"y":-0.13},{"x":69,"y":0.09},{"x":78,"y":-0.02},{"x":87,"y":0.06},{"x":96,"y":-0.1},{"x":105,"y":0.13},{"x":114,"y":-0.07},{"x":160,"y":0.18},{"x":169,"y":-0.09},{"x":178,"y":0.11},{"x":187,"y":-0.14},{"x":196,"y":0.06},{"x":205,"y":-0.04},{"x":214,"y":0.15},{"x":223,"y":-0.12},{"x":232,"y":0.02},{"x":241,"y":0.09},
{"x":256,"y":0.11},{"x":265,"y":-0.09},{"x":274,"y":0.05},{"x":310,"y":0.13},{"x":319,"y":-0.12},{"x":328,"y":0.04},{"x":337,"y":-0.06},{"x":346,"y":0.1},{"x":355,"y":-0.11},{"x":364,"y":0.02},{"x":373,"y":-0.08},{"x":382,"y":0.14},{"x":391,"y":-0.03},{"x":400,"y":0.09},{"x":409,"y":-0.13},{"x":418,"y":0.05},{"x":427,"y":-0.06},{"x":436,"y":0.11},{"x":445,"y":-0.02},{"x":454,"y":0.07},{"x":463,"y":-0.14},{"x":472,"y":0.03},{"x":481,"y":-0.07},{"x":489,"y":0.08},
{"x":508,"y":-0.12},{"x":517,"y":0.09},{"x":526,"y":-0.03},{"x":535,"y":0.13},{"x":544,"y":-0.09},{"x":553,"y":0.05},{"x":580,"y":0.1},{"x":589,"y":-0.14},{"x":598,"y":0.02},{"x":607,"y":-0.06},{"x":616,"y":0.11},{"x":625,"y":-0.11},{"x":634,"y":0.04},{"x":643,"y":-0.03},{"x":652,"y":0.12},{"x":661,"y":-0.08},{"x":670,"y":0.06},{"x":679,"y":-0.1},{"x":687,"y":0.05},
{"x":697,"y":-0.05},{"x":706,"y":0.12},{"x":715,"y":-0.13},{"x":724,"y":0.07},{"x":733,"y":-0.04},{"x":742,"y":0.1},{"x":751,"y":-0.1},{"x":760,"y":0.02},{"x":769,"y":-0.07},{"x":778,"y":0.13},{"x":787,"y":-0.05},{"x":796,"y":0.06},{"x":805,"y":-0.12},{"x":814,"y":0.04},{"x":823,"y":-0.08},{"x":832,"y":0.12},{"x":841,"y":-0.02},{"x":850,"y":0.09},{"x":859,"y":-0.13},{"x":866,"y":0.03},
{"x":888,"y":0.09},{"x":897,"y":-0.1},{"x":906,"y":0.03},{"x":915,"y":-0.05},{"x":924,"y":0.13},{"x":933,"y":-0.08},{"x":942,"y":0.07},{"x":951,"y":-0.13},{"x":960,"y":0.11},{"x":969,"y":-0.02},{"x":978,"y":0.05},{"x":987,"y":-0.11},{"x":996,"y":0.08},{"x":1005,"y":-0.04},{"x":1014,"y":0.12},{"x":1023,"y":-0.09},{"x":1032,"y":0.04},{"x":1041,"y":-0.06},{"x":1050,"y":0.09},{"x":1059,"y":-0.03},
{"x":1069,"y":0.03},{"x":1078,"y":-0.12},{"x":1087,"y":-0.03},{"x":1096,"y":0.05},{"x":1105,"y":-0.08},{"x":1114,"y":-0.02},{"x":1123,"y":-0.1},{"x":1132,"y":0.03},{"x":1141,"y":-0.06},{"x":1150,"y":0.05},{"x":1159,"y":-0.09},{"x":1168,"y":-0.03},{"x":1177,"y":0.04},{"x":1186,"y":-0.1},{"x":1195,"y":-0.05},{"x":1204,"y":0.03},{"x":1213,"y":-0.08},{"x":1222,"y":-0.02},{"x":1230,"y":-0.05},
{"x":1240,"y":-0.05},{"x":1249,"y":0.12},{"x":1258,"y":-0.09},{"x":1267,"y":0.04},{"x":1276,"y":-0.06},{"x":1285,"y":0.1},{"x":1294,"y":-0.11},{"x":1303,"y":0.06},{"x":1312,"y":-0.03},{"x":1321,"y":0.11},{"x":1330,"y":-0.07},{"x":1339,"y":0.03},{"x":1348,"y":-0.1},{"x":1357,"y":0.12},{"x":1366,"y":-0.05},{"x":1375,"y":0.05},{"x":1384,"y":-0.12},
{"x":1544,"y":-0.08},{"x":1552,"y":0.1},{"x":1600,"y":0.12},{"x":1609,"y":-0.05},{"x":1618,"y":0.07},{"x":1627,"y":-0.11},{"x":1636,"y":0.04},{"x":1645,"y":-0.04},{"x":1654,"y":0.1},{"x":1663,"y":-0.06},{"x":1672,"y":0.03},
{"x":1686,"y":0.11},{"x":1695,"y":-0.05},{"x":1704,"y":0.06},{"x":1713,"y":-0.12},{"x":1722,"y":0.08},{"x":1731,"y":-0.03},{"x":1740,"y":0.13},{"x":1749,"y":-0.08},{"x":1758,"y":0.03},{"x":1767,"y":-0.06},{"x":1776,"y":0.12},{"x":1785,"y":-0.1},{"x":1794,"y":0.05},{"x":1803,"y":-0.03},{"x":1811,"y":0.07},
{"x":1822,"y":0.1},{"x":1831,"y":-0.01},{"x":1840,"y":0.07},{"x":1849,"y":0.12},{"x":1858,"y":-0.02},{"x":1867,"y":0.06},{"x":1876,"y":0.09},{"x":1885,"y":0.02},{"x":1894,"y":0.13},{"x":1903,"y":-0.01},{"x":1912,"y":0.08},{"x":1921,"y":0.04},{"x":1930,"y":0.11},{"x":1939,"y":0},{"x":1947,"y":0.07},
{"x":1957,"y":-0.06},{"x":1975,"y":0.11},{"x":1984,"y":-0.07},{"x":1993,"y":0.04},{"x":2002,"y":0.1},{"x":2011,"y":-0.03},{"x":2020,"y":0.06},{"x":2029,"y":-0.1},{"x":2038,"y":0.02},{"x":2047,"y":0.12},{"x":2056,"y":-0.05},{"x":2065,"y":0.07},{"x":2074,"y":-0.03},{"x":2082,"y":0.05},
{"x":2110,"y":-0.11},{"x":2119,"y":0.01},{"x":2128,"y":-0.07},{"x":2137,"y":-0.02},{"x":2146,"y":-0.12},{"x":2155,"y":0.03},{"x":2164,"y":-0.09},{"x":2173,"y":-0.05},{"x":2182,"y":-0.14},{"x":2191,"y":0},
{"x":2225,"y":0.09},{"x":2234,"y":-0.03},{"x":2243,"y":0.05},{"x":2252,"y":0.11},{"x":2261,"y":-0.02},{"x":2270,"y":0.07},{"x":2279,"y":0.03},{"x":2288,"y":0.09},{"x":2297,"y":-0.01},
{"x":2332,"y":-0.1},{"x":2341,"y":0.03},{"x":2350,"y":-0.06},{"x":2359,"y":-0.13},{"x":2368,"y":-0.02},{"x":2377,"y":-0.08},{"x":2386,"y":0.04},{"x":2395,"y":-0.05},{"x":2403,"y":-0.09},
{"x":2416,"y":-0.07},{"x":2425,"y":0.05},{"x":2434,"y":-0.1},{"x":2443,"y":0.08},{"x":2452,"y":0.02},{"x":2461,"y":-0.04},{"x":2470,"y":0.09},{"x":2479,"y":-0.09},{"x":2488,"y":0.04},{"x":2496,"y":0.01},
{"x":2506,"y":-0.06},{"x":2515,"y":0.1},{"x":2524,"y":-0.03},{"x":2533,"y":0.07},{"x":2542,"y":-0.12},{"x":2551,"y":0.04},{"x":2560,"y":-0.05},{"x":2569,"y":0.11},{"x":2577,"y":-0.08},
{"x":2587,"y":0.06},{"x":2596,"y":-0.09},{"x":2605,"y":0.12},{"x":2614,"y":-0.04},{"x":2623,"y":0.08},{"x":2632,"y":-0.13},{"x":2641,"y":0.05},{"x":2650,"y":-0.07},
{"x":2723,"y":-0.06},{"x":2732,"y":0.1},{"x":2741,"y":-0.1},{"x":2750,"y":0.05},{"x":2759,"y":-0.02},{"x":2768,"y":0.09},{"x":2776,"y":-0.07},
{"x":2796,"y":0.08},{"x":2805,"y":-0.03},{"x":2814,"y":0.1},{"x":2823,"y":-0.06},
{"x":2870,"y":-0.02},{"x":2878,"y":0.08},{"x":2886,"y":-0.07},{"x":2894,"y":0.05},{"x":2902,"y":-0.1}],
"cnaC":[{"x":288,"y":-0.52,"s":"L"},{"x":290,"y":-0.62,"s":"L"},{"x":292,"y":-0.55,"s":"L"},{"x":294,"y":-0.53,"s":"L"},{"x":296,"y":-0.57,"s":"L"},{"x":298,"y":-0.5,"s":"L"},{"x":300,"y":-0.38,"s":"L"},{"x":302,"y":-0.55,"s":"L"},
{"x":562,"y":-0.27,"s":"L"},{"x":565,"y":-0.33,"s":"L"},{"x":567,"y":-0.46,"s":"L"},{"x":569,"y":-0.49,"s":"L"},{"x":571,"y":-0.44,"s":"L"},
{"x":869,"y":-0.14,"s":"L"},{"x":872,"y":-0.47,"s":"L"},{"x":874,"y":-0.52,"s":"L"},{"x":876,"y":-0.55,"s":"L"},{"x":878,"y":-0.5,"s":"L"},{"x":879,"y":-0.46,"s":"L"},
{"x":1394,"y":-0.52,"s":"L"},{"x":1397,"y":-0.6,"s":"L"},{"x":1399,"y":-0.45,"s":"L"},{"x":1401,"y":-0.56,"s":"L"},{"x":1403,"y":-0.66,"s":"L"},{"x":1405,"y":-0.5,"s":"L"},{"x":1407,"y":-0.58,"s":"L"},{"x":1409,"y":-0.71,"s":"L"},{"x":1411,"y":-0.48,"s":"L"},{"x":1413,"y":-0.55,"s":"L"},{"x":1415,"y":-0.62,"s":"L"},{"x":1417,"y":-0.51,"s":"L"},{"x":1419,"y":-0.4,"s":"L"},{"x":1421,"y":-0.57,"s":"L"},{"x":1423,"y":-0.7,"s":"L"},{"x":1425,"y":-0.53,"s":"L"},{"x":1427,"y":-0.47,"s":"L"},{"x":1429,"y":-0.6,"s":"L"},{"x":1431,"y":-0.55,"s":"L"},{"x":1433,"y":-0.39,"s":"L"},{"x":1435,"y":-0.58,"s":"L"},
{"x":1440,"y":0.62,"s":"G"},{"x":1441,"y":0.57,"s":"G"},{"x":1444,"y":0.78,"s":"G"},{"x":1448,"y":0.7,"s":"G"},{"x":1452,"y":0.66,"s":"G"},{"x":1456,"y":0.81,"s":"G"},{"x":1460,"y":0.73,"s":"G"},{"x":1464,"y":0.68,"s":"G"},{"x":1468,"y":0.76,"s":"G"},{"x":1472,"y":0.64,"s":"G"},{"x":1476,"y":0.8,"s":"G"},{"x":1480,"y":0.71,"s":"G"},{"x":1484,"y":0.74,"s":"G"},{"x":1488,"y":0.69,"s":"G"},{"x":1492,"y":0.83,"s":"G"},{"x":1496,"y":0.72,"s":"G"},{"x":1500,"y":0.77,"s":"G"},{"x":1504,"y":0.67,"s":"G"},{"x":1508,"y":0.85,"s":"G"},{"x":1512,"y":0.75,"s":"G"},{"x":1516,"y":0.7,"s":"G"},{"x":1520,"y":0.88,"s":"G"},{"x":1524,"y":0.79,"s":"G"},{"x":1528,"y":0.73,"s":"G"},{"x":1532,"y":0.82,"s":"G"},{"x":1536,"y":0.76,"s":"G"},
{"x":1966,"y":-0.43,"s":"L"},{"x":1968,"y":-0.52,"s":"L"},{"x":1969,"y":-0.48,"s":"L"},{"x":1970,"y":-0.55,"s":"L"},{"x":1972,"y":-0.72,"s":"L"},
{"x":2423,"y":0.43,"s":"G"},{"x":2424,"y":0.41,"s":"G"}]
},
"bounds":"flush",
"spacing":60.2,
"resolve":{"scale":{"color":"independent"}},
"vconcat":[
{
"width":628,"height":159.5,
"title":{"text":"Baseline","subtitle":["Tumor Fraction: 0.1848,\u00a0\u00a0\u00a0\u00a0\u00a0\u00a0\u00a0\u00a0\u00a0\u00a0\u00a0\u00a0\u00a0\u00a0\u00a0\u00a0\u00a0\u00a0\u00a0\u00a0\u00a0\u00a0\u200b","Subclone Fraction: 0.427, Frac. Genome Subclonal: 0.02, Frac. CNA Subclonal: 0.31"],"frame":"group","anchor":"middle","dx":14,"offset":-14.3,"font":"Lato","fontSize":8.5,"fontWeight":"bold","color":"black","subtitleFont":"Liberation Sans","subtitleFontSize":9,"subtitleColor":"black","subtitleLineHeight":8.8,"subtitlePadding":2.8},
"resolve":{"axis":{"y":"independent"}},
"encoding":{"x":{"field":"x","type":"quantitative","scale":{"domain":[-126,3046],"nice":false,"zero":false},"axis":{"values":[125,370,591,786,972,1148,1312,1465,1608,1747,1882,2017,2142,2252,2358,2454,2619,2748,2854,2956],"labelExpr":"['1','2','3','4','5','6','7','8','9','10','11','12','13','14','15','16','18','20','22','X'][indexof([125,370,591,786,972,1148,1312,1465,1608,1747,1882,2017,2142,2252,2358,2454,2619,2748,2854,2956], datum.value)]","title":null,"ticks":false,"tickSize":0,"domain":false,"grid":false,"labelPadding":11,"labelFont":"Liberation Sans","labelFontSize":10,"labelColor":"#222","labelOverlap":false,"labelFlush":false}}},
"layer":[
{"data":{"name":"bounds"},"mark":{"type":"rule","color":"#b8b8b8","strokeDash":[1,1],"strokeWidth":1},"encoding":{}},
{"data":{"name":"segA"},"mark":{"type":"rule","strokeWidth":1},"encoding":{"x2":{"field":"x2"},"y":{"field":"y","type":"quantitative","scale":{"domain":[-2,2],"nice":false,"zero":false},"axis":{"orient":"left","title":"A","titleAngle":0,"titleFont":"Liberation Serif","titleFontSize":16,"titleFontWeight":"bold","titleColor":"black","titleAlign":"center","titleBaseline":"middle","titleX":-76.5,"titleY":91.3,"labels":false,"ticks":false,"domain":false,"grid":false}},"color":{"field":"s","type":"nominal","scale":{"domain":["N","G","L"],"range":["#0000ff","#c40000","#009a00"]},"legend":null}}},
{"data":{"name":"ptsA"},"mark":{"type":"circle","size":5,"opacity":1,"color":"#0000ff"},"encoding":{"y":{"field":"y","type":"quantitative","scale":{"domain":[-2,2],"nice":false,"zero":false},"axis":{"orient":"left","values":[-2,-1,0,1,2],"labelExpr":"datum.value < 0 ? '-' + abs(datum.value) : '' + datum.value","title":"Copy Number (log2 ratio)","titleFont":"Liberation Sans","titleFontSize":9,"titleFontWeight":"normal","titleColor":"#222","titlePadding":4,"labelFont":"Liberation Sans","labelFontSize":9,"labelColor":"#222","labelPadding":3,"tickSize":4,"tickColor":"#999","domainColor":"#999","grid":false}}}},
{"data":{"name":"cnaA"},"mark":{"type":"circle","size":6,"opacity":1},"encoding":{"y":{"field":"y","type":"quantitative","scale":{"domain":[-2,2],"nice":false,"zero":false},"axis":null},"color":{"field":"s","type":"nominal","scale":{"domain":["N","G","L"],"range":["#0000ff","#c40000","#009a00"]},"legend":null}}}
]
},
{
"width":628,"height":159.5,
"title":{"text":"Treatment cycle 2","subtitle":["Tumor Fraction: 0.5253,\u00a0\u00a0\u00a0\u00a0\u00a0\u00a0\u00a0\u00a0\u00a0\u00a0\u00a0\u00a0\u00a0\u00a0\u00a0\u00a0\u00a0\u00a0\u00a0\u00a0\u00a0\u00a0\u200b"],"frame":"group","anchor":"middle","dx":14,"offset":-7.7,"font":"Lato","fontSize":8.5,"fontWeight":"bold","color":"black","subtitleFont":"Liberation Sans","subtitleFontSize":9,"subtitleColor":"black","subtitleLineHeight":8.8,"subtitlePadding":5},
"resolve":{"axis":{"y":"independent"}},
"encoding":{"x":{"field":"x","type":"quantitative","scale":{"domain":[-126,3046],"nice":false,"zero":false},"axis":{"values":[125,370,591,786,972,1148,1312,1465,1608,1747,1882,2017,2142,2252,2358,2454,2619,2748,2854,2956],"labelExpr":"['1','2','3','4','5','6','7','8','9','10','11','12','13','14','15','16','18','20','22','X'][indexof([125,370,591,786,972,1148,1312,1465,1608,1747,1882,2017,2142,2252,2358,2454,2619,2748,2854,2956], datum.value)]","title":null,"ticks":false,"tickSize":0,"domain":false,"grid":false,"labelPadding":11,"labelFont":"Liberation Sans","labelFontSize":10,"labelColor":"#222","labelOverlap":false,"labelFlush":false}}},
"layer":[
{"data":{"name":"bounds"},"mark":{"type":"rule","color":"#b8b8b8","strokeDash":[1,1],"strokeWidth":1},"encoding":{}},
{"data":{"name":"segB"},"mark":{"type":"rule","strokeWidth":1},"encoding":{"x2":{"field":"x2"},"y":{"field":"y","type":"quantitative","scale":{"domain":[-2,2],"nice":false,"zero":false},"axis":{"orient":"left","title":"B","titleAngle":0,"titleFont":"Liberation Serif","titleFontSize":16,"titleFontWeight":"bold","titleColor":"black","titleAlign":"center","titleBaseline":"middle","titleX":-76.5,"titleY":62.6,"labels":false,"ticks":false,"domain":false,"grid":false}},"color":{"field":"s","type":"nominal","scale":{"domain":["N","G","L"],"range":["#0000ff","#ff0000","#009a00"]},"legend":null}}},
{"data":{"name":"ptsB"},"mark":{"type":"circle","size":5,"opacity":1,"color":"#0000ff"},"encoding":{"y":{"field":"y","type":"quantitative","scale":{"domain":[-2,2],"nice":false,"zero":false},"axis":{"orient":"left","values":[-2,-1,0,1,2],"labelExpr":"datum.value < 0 ? '-' + abs(datum.value) : '' + datum.value","title":"Copy Number (log2 ratio)","titleFont":"Liberation Sans","titleFontSize":9,"titleFontWeight":"normal","titleColor":"#222","titlePadding":4,"labelFont":"Liberation Sans","labelFontSize":9,"labelColor":"#222","labelPadding":3,"tickSize":4,"tickColor":"#999","domainColor":"#999","grid":false}}}},
{"data":{"name":"cnaB"},"mark":{"type":"circle","size":6,"opacity":1},"encoding":{"y":{"field":"y","type":"quantitative","scale":{"domain":[-2,2],"nice":false,"zero":false},"axis":null},"color":{"field":"s","type":"nominal","scale":{"domain":["N","G","L"],"range":["#0000ff","#ff0000","#009a00"]},"legend":null}}}
]
},
{
"width":628,"height":159.5,
"title":{"text":"Treatment cycle 3","subtitle":["Tumor Fraction: 0.6438,\u00a0\u00a0\u00a0\u00a0\u00a0\u00a0\u00a0\u00a0\u00a0\u00a0\u00a0\u00a0\u00a0\u00a0\u00a0\u00a0\u00a0\u00a0\u00a0\u00a0\u00a0\u00a0\u200b"],"frame":"group","anchor":"middle","dx":14,"offset":-5.4,"font":"Lato","fontSize":8.5,"fontWeight":"bold","color":"black","subtitleFont":"Liberation Sans","subtitleFontSize":9,"subtitleColor":"black","subtitleLineHeight":8.8,"subtitlePadding":7},
"resolve":{"axis":{"y":"independent"}},
"encoding":{"x":{"field":"x","type":"quantitative","scale":{"domain":[-126,3046],"nice":false,"zero":false},"axis":{"values":[125,370,591,786,972,1148,1312,1465,1608,1747,1882,2017,2142,2252,2358,2454,2619,2748,2854,2956],"labelExpr":"['1','2','3','4','5','6','7','8','9','10','11','12','13','14','15','16','18','20','22','X'][indexof([125,370,591,786,972,1148,1312,1465,1608,1747,1882,2017,2142,2252,2358,2454,2619,2748,2854,2956], datum.value)]","title":null,"ticks":false,"tickSize":0,"domain":false,"grid":false,"labelPadding":11,"labelFont":"Liberation Sans","labelFontSize":10,"labelColor":"#222","labelOverlap":false,"labelFlush":false}}},
"layer":[
{"data":{"name":"bounds"},"mark":{"type":"rule","color":"#b8b8b8","strokeDash":[1,1],"strokeWidth":1},"encoding":{}},
{"data":{"name":"segC"},"mark":{"type":"rule","strokeWidth":1},"encoding":{"x2":{"field":"x2"},"y":{"field":"y","type":"quantitative","scale":{"domain":[-2,2],"nice":false,"zero":false},"axis":{"orient":"left","title":"C","titleAngle":0,"titleFont":"Liberation Serif","titleFontSize":16,"titleFontWeight":"bold","titleColor":"black","titleAlign":"center","titleBaseline":"middle","titleX":-76.5,"titleY":78.5,"labels":false,"ticks":false,"domain":false,"grid":false}},"color":{"field":"s","type":"nominal","scale":{"domain":["N","G","L"],"range":["#0000ff","#ff0000","#009a00"]},"legend":null}}},
{"data":{"name":"ptsC"},"mark":{"type":"circle","size":6,"opacity":1,"color":"#0000ff"},"encoding":{"y":{"field":"y","type":"quantitative","scale":{"domain":[-2,2],"nice":false,"zero":false},"axis":{"orient":"left","values":[-2,-1,0,1,2],"labelExpr":"datum.value < 0 ? '-' + abs(datum.value) : '' + datum.value","title":"Copy Number (log2 ratio)","titleFont":"Liberation Sans","titleFontSize":9,"titleFontWeight":"normal","titleColor":"#222","titlePadding":4,"labelFont":"Liberation Sans","labelFontSize":9,"labelColor":"#222","labelPadding":3,"tickSize":4,"tickColor":"#999","domainColor":"#999","grid":false}}}},
{"data":{"name":"cnaC"},"mark":{"type":"circle","size":7,"opacity":1},"encoding":{"y":{"field":"y","type":"quantitative","scale":{"domain":[-2,2],"nice":false,"zero":false},"axis":null},"color":{"field":"s","type":"nominal","scale":{"domain":["N","G","L"],"range":["#0000ff","#ff0000","#009a00"]},"legend":null}}}
]
}
]
}
